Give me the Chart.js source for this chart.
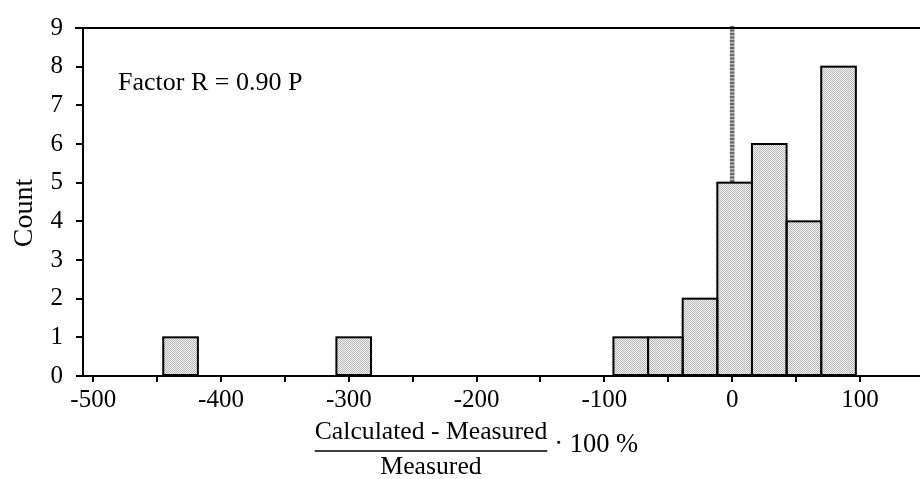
<!DOCTYPE html>
<html>
<head>
<meta charset="utf-8">
<script src="https://cdn.jsdelivr.net/npm/chart.js@4.4.1/dist/chart.umd.min.js"></script>
<style>
  html, body { margin: 0; padding: 0; background: #fff; }
  #wrap { width: 920px; height: 479px; position: relative; }
</style>
</head>
<body>
<div id="wrap"><canvas id="c"></canvas></div>
<script>
// ---- data ----
const binCenters = [-431.65, -296.15, -79.35, -52.25, -25.15, 1.95, 29.05, 56.15, 83.25];
const counts     = [1, 1, 1, 1, 2, 5, 6, 4, 8];
const xTickLabels = [-500, -400, -300, -200, -100, 0, 100];
const yTickLabels = [0, 1, 2, 3, 4, 5, 6, 7, 8, 9];
const referenceLineX = 0;
const annotationText = 'Factor R = 0.90 P';
const yTitle = 'Count';
const xTitleNumerator = 'Calculated - Measured';
const xTitleDenominator = 'Measured';
const xTitleSuffix = '\u00B7 100 %';

const FONT = '"Liberation Serif", "Times New Roman", serif';

// stipple fill pattern
function makePattern() {
  const pc = document.createElement('canvas');
  pc.width = 2; pc.height = 2;
  const p = pc.getContext('2d');
  p.fillStyle = '#f4f4f4'; p.fillRect(0, 0, 2, 2);
  p.fillStyle = '#b6b6b6'; p.fillRect(0, 0, 1, 1); p.fillRect(1, 1, 1, 1);
  return p.createPattern(pc, 'repeat');
}

const pointData = binCenters.map((x, i) => ({ x: x, y: counts[i] }));

const decorPlugin = {
  id: 'decor',
  beforeDatasetsDraw(chart) {
    const { ctx, chartArea, scales } = chart;
    const px = scales.x.getPixelForValue(referenceLineX);
    ctx.save();
    ctx.lineWidth = 4.5;
    ctx.strokeStyle = '#b8b8b8';
    ctx.beginPath();
    ctx.moveTo(px, chartArea.top - 2);
    ctx.lineTo(px, chartArea.bottom);
    ctx.stroke();
    ctx.setLineDash([2, 1.5]);
    ctx.strokeStyle = '#6a6a6a';
    ctx.beginPath();
    ctx.moveTo(px, chartArea.top - 2);
    ctx.lineTo(px, chartArea.bottom);
    ctx.stroke();
    ctx.restore();
  },
  afterDatasetsDraw(chart) {
    const { ctx } = chart;
    const meta = chart.getDatasetMeta(0);
    ctx.save();
    ctx.strokeStyle = '#000';
    ctx.lineWidth = 2;
    meta.data.forEach(bar => {
      const p = bar.getProps(['x', 'y', 'base', 'width'], true);
      const left = p.x - p.width / 2;
      ctx.strokeRect(left, p.y, p.width, p.base - p.y);
    });
    ctx.restore();
  },
  afterDraw(chart) {
    const { ctx, chartArea } = chart;
    ctx.save();
    // top frame line
    ctx.strokeStyle = '#000';
    ctx.lineWidth = 2;
    ctx.beginPath();
    ctx.moveTo(chartArea.left - 8, chartArea.top);
    ctx.lineTo(chartArea.right, chartArea.top);
    ctx.stroke();

    ctx.fillStyle = '#000';
    // annotation
    ctx.font = '26px ' + FONT;
    ctx.textAlign = 'left';
    ctx.textBaseline = 'alphabetic';
    ctx.fillText(annotationText, 118, 90);

    // y title
    ctx.save();
    ctx.translate(32, 213);
    ctx.rotate(-Math.PI / 2);
    ctx.font = '28px ' + FONT;
    ctx.textAlign = 'center';
    ctx.textBaseline = 'alphabetic';
    ctx.fillText(yTitle, 0, 0);
    ctx.restore();

    // x title as fraction
    ctx.font = '25.7px ' + FONT;
    ctx.textAlign = 'center';
    ctx.textBaseline = 'alphabetic';
    const cx = 431;
    ctx.fillText(xTitleNumerator, cx, 439);
    const w = ctx.measureText(xTitleNumerator).width;
    ctx.lineWidth = 1.6;
    ctx.beginPath();
    ctx.moveTo(cx - w / 2, 451);
    ctx.lineTo(cx + w / 2, 451);
    ctx.stroke();
    ctx.fillText(xTitleDenominator, cx, 474);
    ctx.textAlign = 'left';
    ctx.font = '26.5px ' + FONT;
    ctx.fillText(xTitleSuffix, cx + w / 2 + 7, 452);
    ctx.restore();
  }
};

new Chart(document.getElementById('c'), {
  type: 'bar',
  data: {
    datasets: [{
      data: pointData,
      backgroundColor: makePattern(),
      borderWidth: 0,
      barPercentage: 1,
      categoryPercentage: 1
    }]
  },
  options: {
    responsive: true,
    maintainAspectRatio: false,
    devicePixelRatio: 1,
    animation: false,
    layout: { padding: { top: 28, left: 0, right: 0, bottom: 0 } },
    plugins: { legend: { display: false }, tooltip: { enabled: false } },
    scales: {
      x: {
        type: 'linear',
        min: -508,
        max: 147,
        offset: false,
        afterFit(s) { s.height = 103; },
        border: { display: true, color: '#000', width: 2 },
        grid: { display: true, offset: false, drawOnChartArea: false, drawTicks: true, tickLength: 6, color: '#000', lineWidth: 2 },
        ticks: {
          stepSize: 50,
          includeBounds: false,
          autoSkip: false,
          maxRotation: 0,
          padding: 3,
          color: '#000',
          font: { family: FONT, size: 25 },
          callback(v) { return xTickLabels.includes(v) ? String(v) : ''; }
        }
      },
      y: {
        min: 0,
        max: 9,
        afterFit(s) { s.width = 83; },
        border: { display: true, color: '#000', width: 2 },
        grid: { display: true, offset: false, drawOnChartArea: false, drawTicks: true, tickLength: 7, color: '#000', lineWidth: 2 },
        ticks: {
          stepSize: 1,
          padding: 13,
          color: '#000',
          font: { family: FONT, size: 25 },
          callback(v) { return yTickLabels.includes(v) ? String(v) : ''; }
        }
      }
    }
  },
  plugins: [decorPlugin]
});
</script>
</body>
</html>
